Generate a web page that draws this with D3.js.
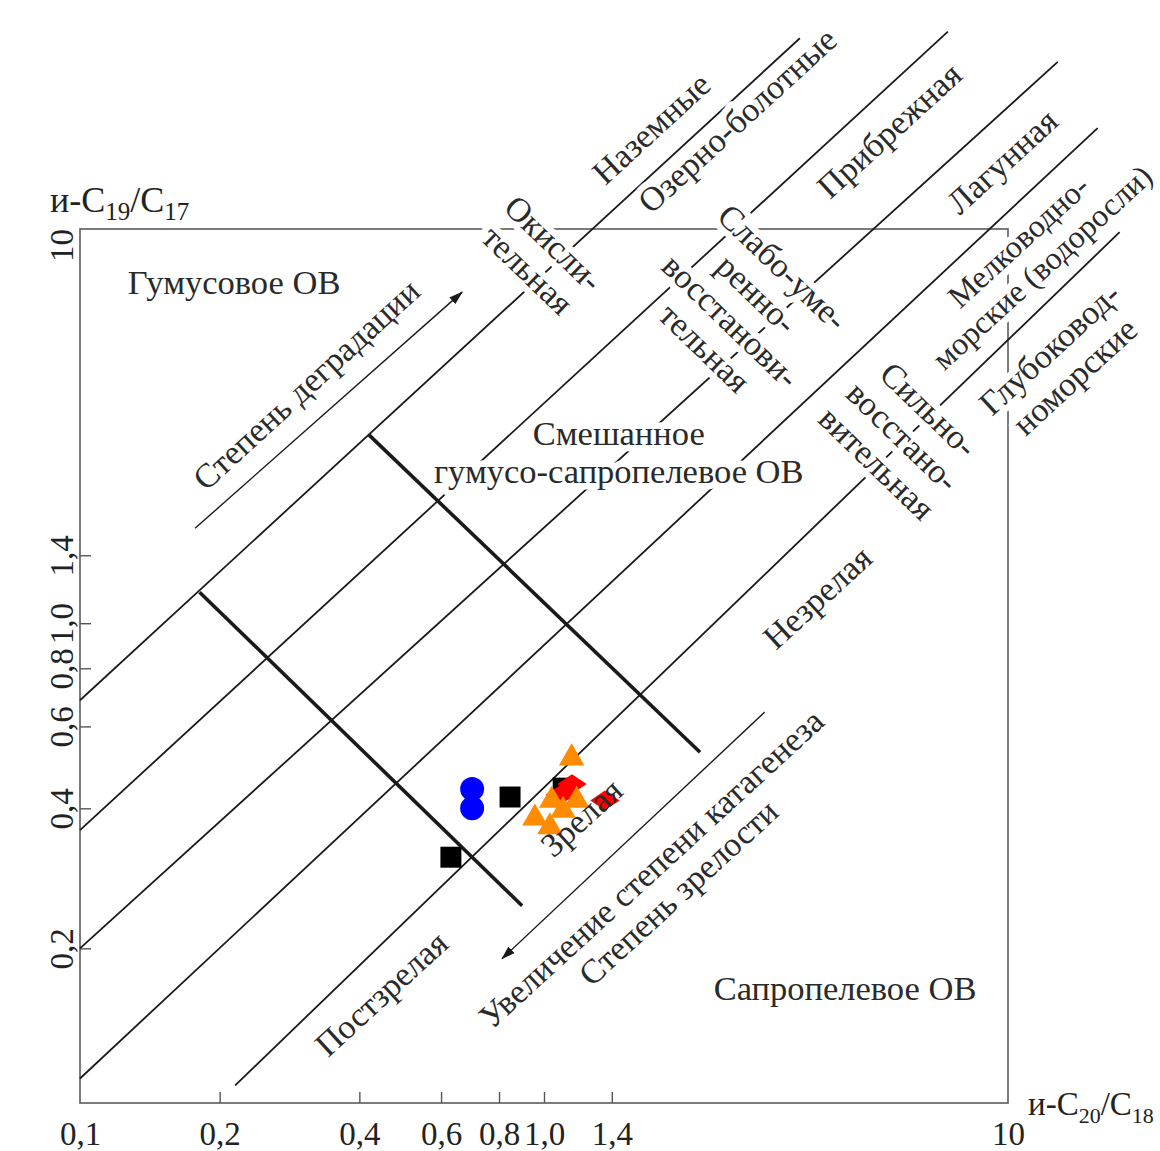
<!DOCTYPE html>
<html>
<head>
<meta charset="utf-8">
<script src="https://cdn.jsdelivr.net/npm/d3@7"></script>
<style>
  body { margin: 0; background: #fff; }
  svg { font-family: "Liberation Serif", "DejaVu Serif", serif; }
</style>
</head>
<body>
<svg id="chart"></svg>
<script>
const width = 1160, height = 1151;
const margin = { left: 80, right: 152, top: 229, bottom: 48 };

// axis ranges and ticks (the y axis of the original is drawn 0.09..7 but labelled "10" at the top)
const xDomain = [0.1, 10];
const yDomain = [0.093, 7.04];
const xTickMarks = [0.2, 0.4, 0.6, 0.8, 1.0, 1.4];
const xTickLabels = [0.1, 0.2, 0.4, 0.6, 0.8, 1.0, 1.4, 10];
const yTickMarks = [0.2, 0.4, 0.6, 0.8, 1.0, 1.4];
const yTopLabel = "10";

// samples (i-C20/C18, i-C19/C17)
const blueCircles = [[0.70, 0.440], [0.70, 0.400]];
const blackSquares = [[0.630, 0.314], [0.845, 0.423], [1.10, 0.442]];
const orangeTriangles = [[1.147, 0.513], [1.039, 0.416], [0.956, 0.381], [1.030, 0.365], [1.099, 0.396], [1.176, 0.416]];
const redDiamonds = [[1.083, 0.427], [1.149, 0.451], [1.353, 0.416]];

// facies boundaries, maturity boundaries and arrows [start, end]
const faciesLines = [
  [[0.1, 0.683], [3.56, 18.1]],
  [[0.1, 0.359], [7.42, 18.7]],
  [[0.1, 0.200], [12.8, 16.1]],
  [[0.1, 0.105], [15.6, 11.6]],
  [[0.216, 0.1015], [17.4, 6.93]]
];
const maturityLines = [
  [[0.181, 1.166], [0.897, 0.247]],
  [[0.420, 2.537], [2.169, 0.528]]
];
const arrowLines = [
  [[0.177, 1.60], [0.666, 5.15]],
  [[2.99, 0.644], [0.812, 0.190]]
];

// labels: text lines, anchor point in data units, rotation
const labels = [
  { lines: ["Гумусовое ОВ"], at: [0.2148, 5.41], rot: 0, size: 34.5 },
  { lines: ["Смешанное", "гумусо-сапропелевое ОВ"], at: [1.449, 2.334], rot: 0, size: 34.5 },
  { lines: ["Сапропелевое ОВ"], at: [4.454, 0.164], rot: 0, size: 34.5 },
  { lines: ["Степень деградации"], at: [0.307, 3.266], rot: -42.5, size: 34 },
  { lines: ["Наземные"], at: [1.701, 11.6], rot: -42.5, size: 34 },
  { lines: ["Озерно-болотные"], at: [2.606, 12.07], rot: -42.5, size: 34 },
  { lines: ["Прибрежная"], at: [5.54, 11.48], rot: -42.5, size: 34 },
  { lines: ["Лагунная"], at: [9.70, 9.85], rot: -42.5, size: 34 },
  { lines: ["Мелководно-", "морские (водоросли)"], at: [11.15, 6.22], rot: -42.5, size: 32 },
  { lines: ["Глубоковод-", "номорские"], at: [13.07, 3.64], rot: -42.5, size: 34 },
  { lines: ["Окисли-", "тельная"], at: [0.985, 6.15], rot: 44, size: 34 },
  { lines: ["Слабо-уме-", "ренно-", "восстанови-", "тельная"], at: [2.698, 4.78], rot: 44, size: 34 },
  { lines: ["Сильно-", "восстано-", "вительная"], at: [5.94, 2.525], rot: 44, size: 34 },
  { lines: ["Незрелая"], at: [3.876, 1.137], rot: -42.5, size: 34 },
  { lines: ["Постзрелая"], at: [0.4454, 0.160], rot: -42.5, size: 34 },
  { lines: ["Увеличение степени катагенеза"], at: [1.701, 0.2972], rot: -42.5, size: 34 },
  { lines: ["Степень зрелости"], at: [1.945, 0.2639], rot: -42.5, size: 34 }
];
const matureLabel = { lines: ["Зрелая"], at: [1.202, 0.3827], rot: -42.5, size: 34 };

const svg = d3.select('#chart')
    .attr("width", width)
    .attr("height", height);

const x = d3.scaleLog().domain(xDomain).range([margin.left, width - margin.right]);
const y = d3.scaleLog().domain(yDomain).range([height - margin.bottom, margin.top]);

svg.append("defs").append("marker")
    .attr("id", "arrow")
    .attr("viewBox", "0 -5 14 10")
    .attr("refX", 13)
    .attr("refY", 0)
    .attr("markerUnits", "userSpaceOnUse")
    .attr("markerWidth", 14)
    .attr("markerHeight", 10)
    .attr("orient", "auto")
    .append("path")
    .attr("d", "M0,-4.5L14,0L0,4.5Z")
    .attr("fill", "#1a1a1a");

// frame
svg.append("rect")
    .attr("x", x(xDomain[0]))
    .attr("y", y(yDomain[1]))
    .attr("width", x(xDomain[1]) - x(xDomain[0]))
    .attr("height", y(yDomain[0]) - y(yDomain[1]))
    .attr("fill", "none")
    .attr("stroke", "#5a5a5a")
    .attr("stroke-width", 1.6);

const fmt = d => d === 10 ? "10" : d3.format(".1f")(d).replace(".", ",");

const xAxisG = svg.append("g")
    .attr("transform", `translate(0,${y(yDomain[0])})`)
    .call(d3.axisBottom(x).tickValues(xTickLabels).tickFormat(fmt).tickSize(0).tickPadding(19));
xAxisG.select(".domain").remove();
xAxisG.selectAll("text").attr("font-size", 33).attr("fill", "#222")
    .attr("font-family", "Liberation Serif");

const xTickG = svg.append("g")
    .attr("transform", `translate(0,${y(yDomain[0])})`)
    .call(d3.axisBottom(x).tickValues(xTickMarks).tickFormat("").tickSize(-11));
xTickG.select(".domain").remove();
xTickG.selectAll("line").attr("stroke", "#555").attr("stroke-width", 1.4);

const yAxisG = svg.append("g")
    .attr("transform", `translate(${x(xDomain[0])},0)`)
    .call(d3.axisLeft(y).tickValues(yTickMarks).tickFormat(fmt).tickSize(-11));
yAxisG.select(".domain").remove();
yAxisG.selectAll("line").attr("stroke", "#555").attr("stroke-width", 1.4);
yAxisG.selectAll("text")
    .attr("x", 0).attr("dy", null)
    .attr("transform", "translate(-7,0) rotate(-90)")
    .attr("text-anchor", "middle")
    .attr("font-size", 33).attr("fill", "#222")
    .attr("font-family", "Liberation Serif");

svg.append("text")
    .attr("transform", `translate(${x(xDomain[0]) - 7},${y(yDomain[1])}) rotate(-90)`)
    .attr("text-anchor", "end")
    .attr("font-size", 33).attr("fill", "#222")
    .text(yTopLabel);

// axis titles
function ratioTitle(g, a, b, sub) {
  g.append("tspan").text("и-C");
  g.append("tspan").attr("font-size", sub).attr("dy", 8).text(a);
  g.append("tspan").attr("dy", -8).text("/C");
  g.append("tspan").attr("font-size", sub).attr("dy", 8).text(b);
}
ratioTitle(svg.append("text")
    .attr("x", x(xDomain[0]) - 30).attr("y", y(yDomain[1]) - 17)
    .attr("font-size", 36).attr("fill", "#222"), "19", "17", 25);
ratioTitle(svg.append("text")
    .attr("x", x(xDomain[1]) + 20).attr("y", y(yDomain[0]) + 12)
    .attr("font-size", 33).attr("fill", "#222"), "20", "18", 22);

const linePath = d3.line().x(d => x(d[0])).y(d => y(d[1]));

svg.append("g").selectAll("path")
    .data(faciesLines)
    .join("path")
    .attr("d", linePath)
    .attr("fill", "none")
    .attr("stroke", "#1a1a1a")
    .attr("stroke-width", 1.8);

svg.append("g").selectAll("path")
    .data(maturityLines)
    .join("path")
    .attr("d", linePath)
    .attr("fill", "none")
    .attr("stroke", "#1a1a1a")
    .attr("stroke-width", 3.6);

svg.append("g").selectAll("path")
    .data(arrowLines)
    .join("path")
    .attr("d", linePath)
    .attr("fill", "none")
    .attr("stroke", "#1a1a1a")
    .attr("stroke-width", 1.4)
    .attr("marker-end", "url(#arrow)");

// labels with a white halo that cuts the lines behind them
function drawLabel(g, d, halo) {
  const lh = d.size * 1.1;
  const t = g.append("text")
      .attr("transform", `translate(${x(d.at[0])},${y(d.at[1])}) rotate(${d.rot})`)
      .attr("text-anchor", "middle")
      .attr("font-size", d.size)
      .attr("fill", "#2a2a2a");
  if (halo) {
    t.attr("stroke", "#fff").attr("stroke-width", 13)
     .attr("stroke-linejoin", "round").attr("paint-order", "stroke");
  }
  d.lines.forEach((s, i) => {
    t.append("tspan")
      .attr("x", 0)
      .attr("y", (i - (d.lines.length - 1) / 2) * lh)
      .attr("dy", "0.35em")
      .text(s);
  });
}

const labelG = svg.append("g");
labels.forEach(d => drawLabel(labelG, d, true));

// sample markers
const marks = svg.append("g");
const sym = (type, size) => d3.symbol().type(type).size(size)();

marks.selectAll(".sq")
    .data(blackSquares)
    .join("path")
    .attr("class", "sq")
    .attr("transform", d => `translate(${x(d[0])},${y(d[1])})`)
    .attr("d", sym(d3.symbolSquare, 440))
    .attr("fill", "#000");

marks.selectAll(".ci")
    .data(blueCircles)
    .join("path")
    .attr("class", "ci")
    .attr("transform", d => `translate(${x(d[0])},${y(d[1])})`)
    .attr("d", sym(d3.symbolCircle, 450))
    .attr("fill", "#0000ff");

marks.selectAll(".rd")
    .data(redDiamonds)
    .join("path")
    .attr("class", "rd")
    .attr("transform", d => `translate(${x(d[0])},${y(d[1])}) scale(1.2,0.8) rotate(45)`)
    .attr("d", sym(d3.symbolSquare, 300))
    .attr("fill", "#ff0000");

marks.selectAll(".tr")
    .data(orangeTriangles)
    .join("path")
    .attr("class", "tr")
    .attr("transform", d => `translate(${x(d[0])},${y(d[1])})`)
    .attr("d", sym(d3.symbolTriangle, 280))
    .attr("fill", "#ff8c00");

drawLabel(svg.append("g"), matureLabel, false);
</script>
</body>
</html>
